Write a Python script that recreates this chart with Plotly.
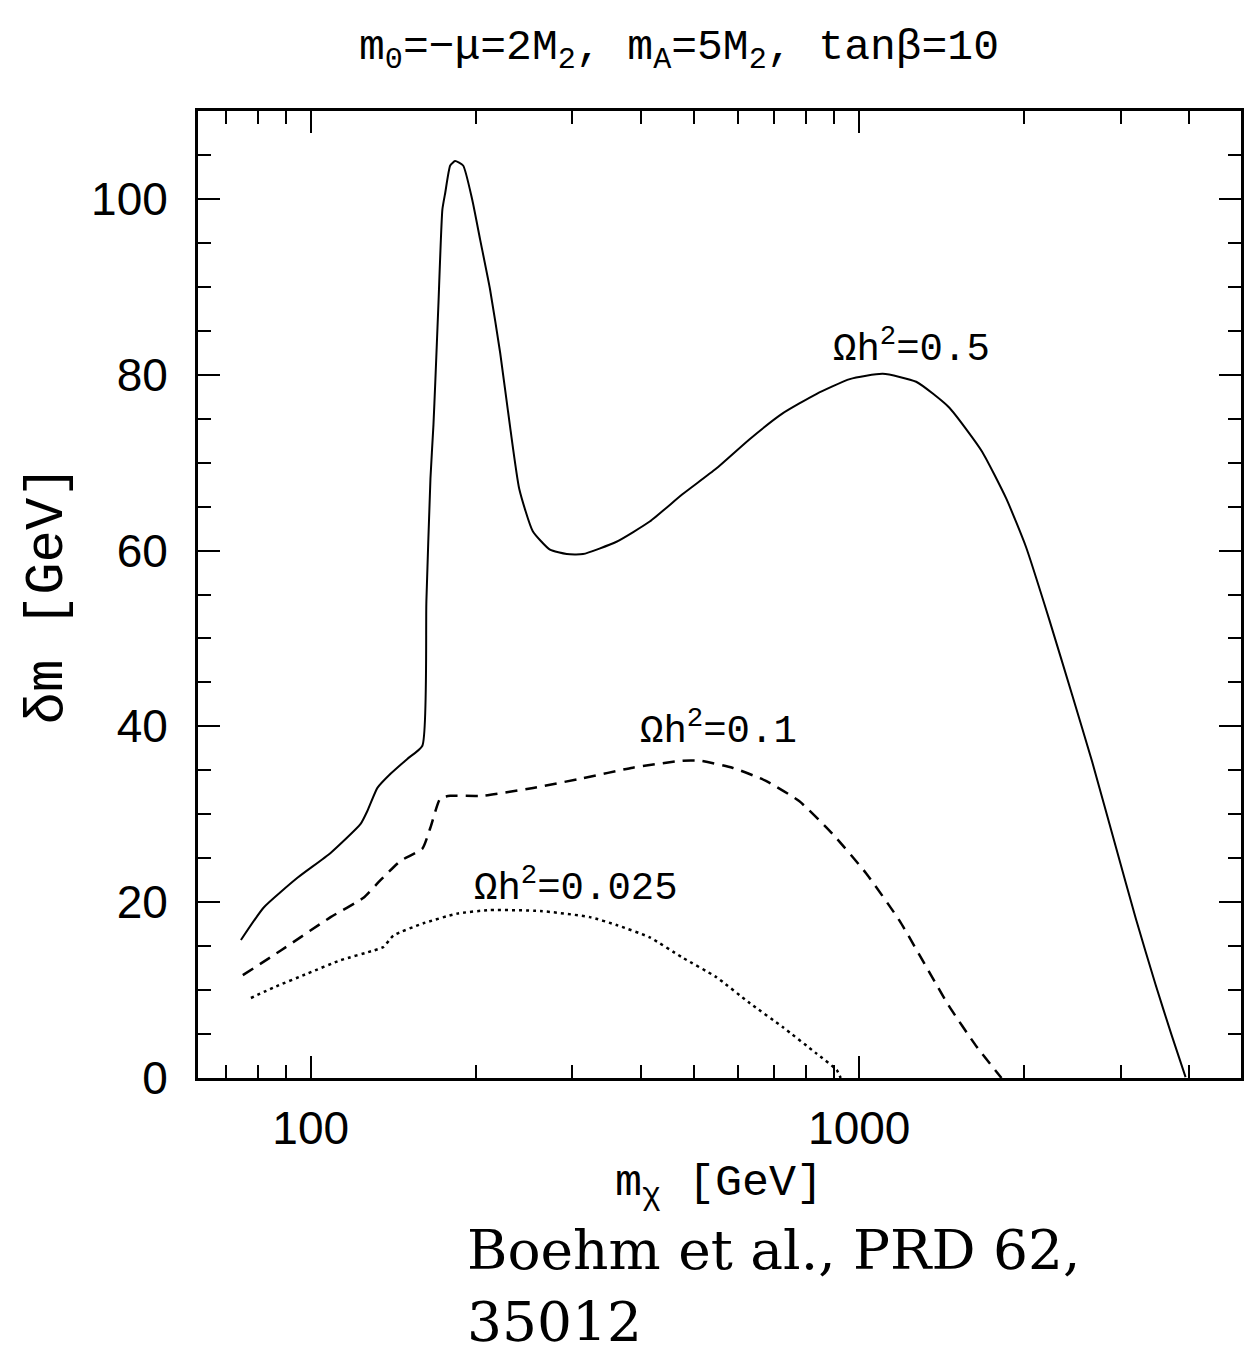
import plotly.graph_objects as go

# ---- data ----
m_solid = [74.6, 82.1, 94.7, 108.7, 123.3, 126.9, 132.3, 139.8, 150, 159.8, 162.5, 165.3, 167.4, 168.7,
           170.9, 173.8, 175.9, 179.6, 183.3, 189.6, 197.0, 203.6, 212.3, 221.5, 231, 240, 254, 273, 293,
           313.6, 361, 415, 476, 548, 632, 725, 835, 961, 1104, 1270, 1457, 1673, 1854, 2014, 2219, 2444,
           2658, 2936, 3191, 3470, 3710, 3935]
dm_solid = [15.7, 19.4, 22.8, 25.6, 28.9, 30.4, 33.0, 34.6, 36.3, 37.8, 54.2, 68.2, 74.3, 79.2,
            87.9, 98.8, 100.7, 103.8, 104.3, 103.8, 99.9, 95.4, 89.7, 82.5, 74.0, 67.0, 62.2, 60.1, 59.6,
            59.6, 61.0, 63.3, 66.4, 69.3, 72.7, 75.6, 77.8, 79.5, 80.1, 79.2, 76.3, 71.3, 65.9, 60.4, 52.2, 43.6,
            36.0, 26.3, 18.2, 10.6, 4.9, 0.1]

m_dash = [75.2, 88.2, 108.7, 124.8, 134.0, 145.8, 159.8, 165.3, 172.3, 179.6, 206, 254.4, 313.6, 386.6,
          476.5, 511.5, 587, 676, 777, 893, 1029, 1184, 1457, 1640, 1817]
dm_dash = [11.7, 14.5, 18.3, 20.5, 22.5, 24.7, 26.1, 28.5, 31.8, 32.1, 32.1, 33.0, 34.1, 35.3,
           36.1, 36.1, 35.3, 33.8, 31.5, 27.8, 23.3, 17.9, 8.2, 3.5, 0.0]

m_dot = [77.8, 85.6, 98.8, 113.4, 130.2, 135.7, 141.5, 160.5, 185, 212, 262, 323, 361, 415, 476, 548,
         632, 725, 835, 910, 925]
dm_dot = [9.1, 10.3, 11.9, 13.4, 14.5, 14.9, 16.2, 17.6, 18.7, 19.1, 19.0, 18.3, 17.4, 16.0, 13.7, 11.5,
          8.5, 5.8, 2.8, 0.9, 0.0]

x_major = [100, 1000]
x_major_text = ["100", "1000"]
x_minor = [70, 80, 90, 200, 300, 400, 500, 600, 700, 800, 900, 2000, 3000, 4000]
y_major = [0, 20, 40, 60, 80, 100]

# ---- layout geometry ----
W, H = 1245, 1358
L, R, T, B = 198, 1244, 111, 1078


def px(xp):
    return (xp - L) / (R - L)


def py(yp):
    return (B - yp) / (B - T)


fig = go.Figure()
fig.add_trace(go.Scatter(x=m_solid, y=dm_solid, mode="lines",
                         line=dict(color="black", width=2, shape="spline", smoothing=0.5),
                         showlegend=False))
fig.add_trace(go.Scatter(x=m_dash, y=dm_dash, mode="lines",
                         line=dict(color="black", width=2.5, dash="12px,8px", shape="spline", smoothing=0.5),
                         showlegend=False))
fig.add_trace(go.Scatter(x=m_dot, y=dm_dot, mode="lines",
                         line=dict(color="black", width=2.5, dash="3px,4px", shape="spline", smoothing=0.5),
                         showlegend=False))

mono = "Liberation Mono, DejaVu Sans Mono, monospace"
tickfont = dict(family="Liberation Sans Narrow, Liberation Sans, Arial", size=46, color="black")

fig.update_layout(
    width=W, height=H,
    margin=dict(l=L, r=W - R, t=T, b=H - B),
    paper_bgcolor="white", plot_bgcolor="white",
    xaxis=dict(type="log", range=[1.7945, 3.696],
               tickmode="array", tickvals=x_major, ticktext=x_major_text,
               ticks="inside", ticklen=22, tickwidth=2, tickcolor="black",
               minor=dict(tickmode="array", tickvals=x_minor, ticks="inside", ticklen=13,
                          tickwidth=2, tickcolor="black", showgrid=False),
               showline=True, linewidth=3, linecolor="black", mirror="ticks",
               showgrid=False, zeroline=False, tickfont=tickfont, ticklabelstandoff=8),
    yaxis=dict(range=[0, 110],
               tickmode="array", tickvals=y_major,
               ticks="inside", ticklen=22, tickwidth=2, tickcolor="black",
               minor=dict(dtick=5, ticks="inside", ticklen=13, tickwidth=2,
                          tickcolor="black", showgrid=False),
               showline=True, linewidth=3, linecolor="black", mirror="ticks",
               showgrid=False, zeroline=False, tickfont=tickfont, ticklabelstandoff=18),
)

ann = []
# title
ann.append(dict(text="m<sub>0</sub>=\u2212\u03bc=2M<sub>2</sub>, m<sub>A</sub>=5M<sub>2</sub>, tan\u03b2=10",
                x=px(680), y=py(50), xref="paper", yref="paper", showarrow=False,
                xanchor="center", yanchor="middle",
                font=dict(family=mono, size=43, color="black")))
# axis titles
ann.append(dict(text="m<sub>\u03c7</sub> [GeV]", x=px(720), y=py(1185), xref="paper", yref="paper",
                showarrow=False, xanchor="center", yanchor="middle",
                font=dict(family=mono, size=45, color="black")))
ann.append(dict(text="\u03b4m [GeV]", x=px(47), y=py(595), xref="paper", yref="paper",
                showarrow=False, xanchor="center", yanchor="middle", textangle=-90,
                font=dict(family=mono, size=54, color="black")))
# curve labels
for txt, cx, cy in [("\u03a9h<sup>2</sup>=0.5", 914, 346), ("\u03a9h<sup>2</sup>=0.1", 720, 728),
                    ("\u03a9h<sup>2</sup>=0.025", 577, 885)]:
    ann.append(dict(text=txt, x=px(cx), y=py(cy), xref="paper", yref="paper", showarrow=False,
                    xanchor="center", yanchor="middle",
                    font=dict(family=mono, size=39, color="black")))
# citation
ann.append(dict(text="Boehm et al., PRD 62,<br>35012", x=px(466), y=py(1216), xref="paper", yref="paper",
                showarrow=False, xanchor="left", yanchor="top", align="left",
                font=dict(family="DejaVu Serif", size=55, color="black")))
fig.update_layout(annotations=ann)

fig.write_html("out.html", config={"displayModeBar": False},
               post_script="document.body.style.margin='0px';")
